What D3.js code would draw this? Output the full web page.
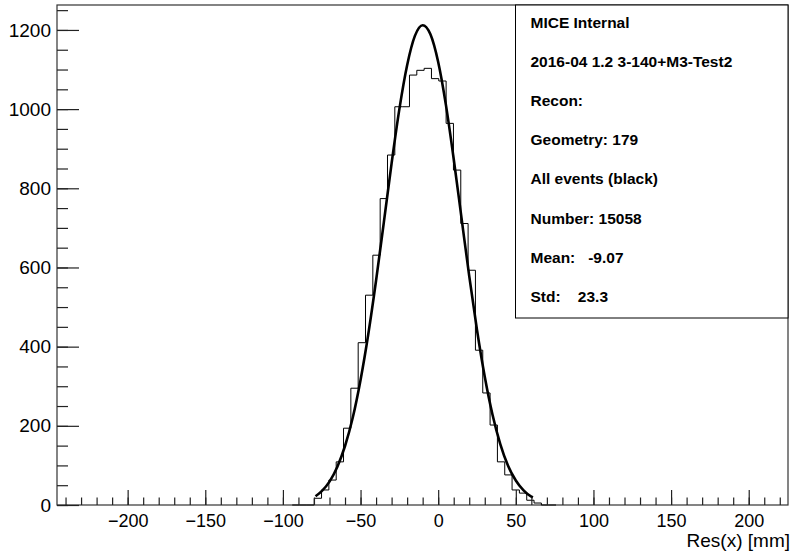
<!DOCTYPE html>
<html>
<head>
<meta charset="utf-8">
<script src="https://cdn.jsdelivr.net/npm/d3@7"></script>
<style>
  body { margin: 0; background: #fff; }
  text { font-family: "Liberation Sans", Arial, sans-serif; }
</style>
</head>
<body>
<div id="container"></div>
<script>
/* CONSTANTS AND GLOBALS */
const width = 794;
const height = 553;
const frame = { left: 57, right: 788, top: 5, bottom: 505 };

/* DATA */
// histogram: equal bins between histMin and histMax
const histMin = -94;
const histMax = 75.9;
const counts = [0, 0, 0, 17, 38, 63, 109, 194, 295, 410, 530, 631, 774, 884, 1006, 1006,
  1086, 1098, 1103, 1077, 1071, 964, 846, 711, 593, 391, 283, 202, 109, 76, 38, 30, 12, 5, 0, 0];

// fitted gaussian
const curveX = [-79, -75, -70, -65, -60, -55, -50, -45, -40, -35, -30, -25, -20, -15, -10,
  -5, 0, 5, 10, 15, 20, 25, 30, 35, 40, 45, 50, 55, 60, 61];
const curveY = [22, 35, 59, 96, 149, 221, 316, 432, 567, 714, 863, 1000, 1111, 1185, 1212,
  1189, 1119, 1010, 874, 726, 578, 442, 324, 228, 154, 99, 62, 37, 21, 19];

// axes
const xDomain = [-245.5, 225.3];
const yDomain = [0, 1263];
const xTicks = [-200, -150, -100, -50, 0, 50, 100, 150, 200];
const xMinor = d3.range(-240, 221, 10);
const yTicks = [0, 200, 400, 600, 800, 1000, 1200];
const yMinor = d3.range(0, 1251, 50);
const xTitle = "Res(x) [mm]";

// stats box
const statLines = ["MICE Internal", "2016-04 1.2 3-140+M3-Test2", "Recon:", "Geometry: 179",
  "All events (black)", "Number: 15058", "Mean:   -9.07", "Std:    23.3"];

/* SCALES */
const xScale = d3.scaleLinear().domain(xDomain).range([frame.left, frame.right]);
const yScale = d3.scaleLinear().domain(yDomain).range([frame.bottom, frame.top]);

/* SVG */
const svg = d3.select("#container")
  .append("svg")
  .attr("width", width)
  .attr("height", height);

// frame
svg.append("rect")
  .attr("x", frame.left)
  .attr("y", frame.top)
  .attr("width", frame.right - frame.left)
  .attr("height", frame.bottom - frame.top)
  .attr("fill", "none")
  .attr("stroke", "#333")
  .attr("stroke-width", 1.2);

// histogram outline as steps
const binW = (histMax - histMin) / counts.length;
const histPts = [[histMin, 0]];
counts.forEach((c, i) => {
  histPts.push([histMin + i * binW, c]);
  histPts.push([histMin + (i + 1) * binW, c]);
});
histPts.push([histMax, 0]);

svg.append("path")
  .datum(histPts)
  .attr("fill", "none")
  .attr("stroke", "#000")
  .attr("stroke-width", 1)
  .attr("d", d3.line().x(d => xScale(d[0])).y(d => yScale(d[1])));

// fit curve
svg.append("path")
  .datum(curveX.map((x, i) => [x, curveY[i]]))
  .attr("fill", "none")
  .attr("stroke", "#000")
  .attr("stroke-width", 2.6)
  .attr("stroke-linejoin", "round")
  .attr("d", d3.line().x(d => xScale(d[0])).y(d => yScale(d[1])).curve(d3.curveMonotoneX));

// X-Axis minor ticks
svg.append("g")
  .attr("transform", `translate(0,${frame.bottom})`)
  .call(d3.axisBottom(xScale).tickValues(xMinor).tickSize(-7.5).tickFormat(""))
  .call(g => g.select(".domain").remove());

// X-Axis major ticks + labels
svg.append("g")
  .attr("class", "x-axis")
  .attr("transform", `translate(0,${frame.bottom})`)
  .style("font-size", "18px")
  .call(d3.axisBottom(xScale).tickValues(xTicks).tickSize(-15).tickPadding(9))
  .call(g => g.select(".domain").remove());

// Y-Axis minor ticks
svg.append("g")
  .attr("transform", `translate(${frame.left},0)`)
  .call(d3.axisLeft(yScale).tickValues(yMinor).tickSize(-11).tickFormat(""))
  .call(g => g.select(".domain").remove());

// Y-Axis major ticks + labels
svg.append("g")
  .attr("class", "y-axis")
  .attr("transform", `translate(${frame.left},0)`)
  .style("font-size", "19px")
  .call(d3.axisLeft(yScale).tickValues(yTicks).tickSize(-22).tickPadding(6).tickFormat(d3.format("d")))
  .call(g => g.select(".domain").remove());

svg.selectAll(".tick line").attr("stroke", "#222").attr("stroke-width", 1.2);
svg.selectAll(".tick text").attr("font-family", "Liberation Sans, Arial, sans-serif").attr("fill", "#000");

// X-Axis title
svg.append("text")
  .attr("x", frame.right + 2)
  .attr("y", 547)
  .attr("text-anchor", "end")
  .style("font-size", "19px")
  .text(xTitle);

// stats box
const box = { x: 515.5, y: frame.top, w: frame.right - 515.5, h: 313 };
svg.append("rect")
  .attr("x", box.x)
  .attr("y", box.y)
  .attr("width", box.w)
  .attr("height", box.h)
  .attr("fill", "#fff")
  .attr("stroke", "#000")
  .attr("stroke-width", 1);

svg.append("g")
  .selectAll("text")
  .data(statLines)
  .join("text")
  .attr("x", box.x + 15)
  .attr("y", (d, i) => box.y + (i + 0.5) * box.h / statLines.length)
  .attr("dy", "0.22em")
  .attr("xml:space", "preserve")
  .style("white-space", "pre")
  .style("font-size", "15.5px")
  .style("font-weight", "bold")
  .text(d => d);
</script>
</body>
</html>
